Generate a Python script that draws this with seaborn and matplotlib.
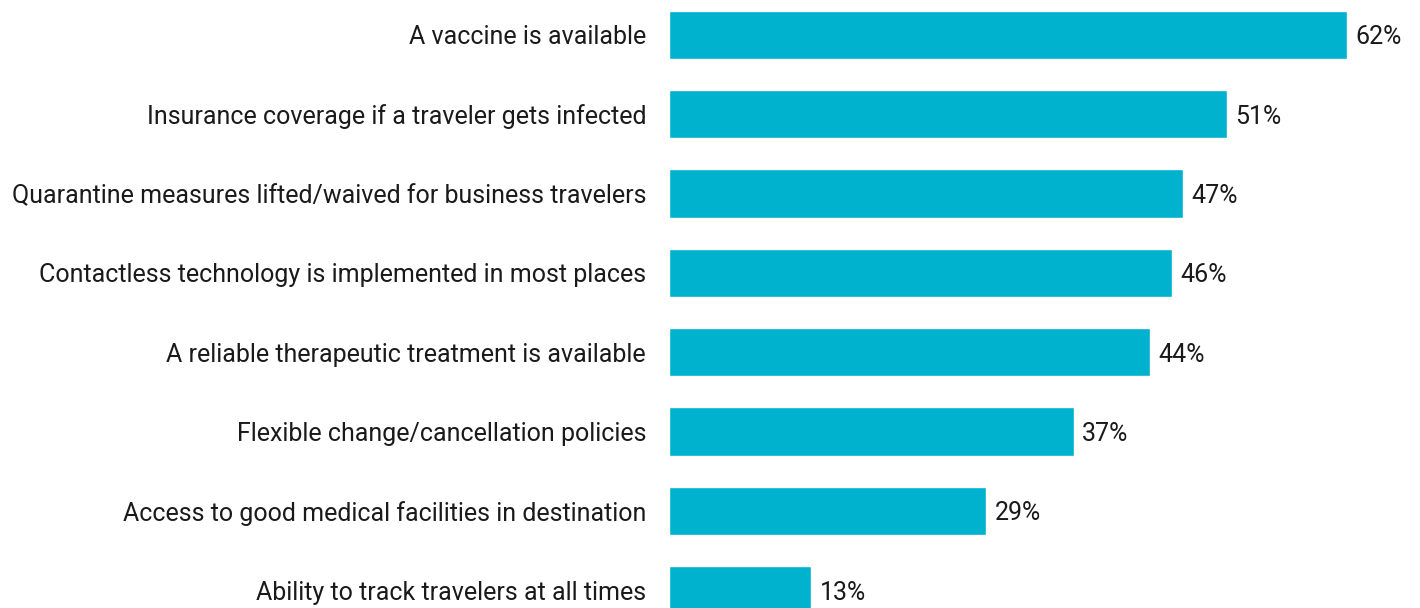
import matplotlib
matplotlib.use("Agg")
import matplotlib.pyplot as plt
import seaborn as sns
import pandas as pd

categories = [
    "A vaccine is available",
    "Insurance coverage if a traveler gets infected",
    "Quarantine measures lifted/waived for business travelers",
    "Contactless technology is implemented in most places",
    "A reliable therapeutic treatment is available",
    "Flexible change/cancellation policies",
    "Access to good medical facilities in destination",
    "Ability to track travelers at all times",
]
shares = [62, 51, 47, 46, 44, 37, 29, 13]

BAR_COLOR = "#00B2CE"

sns.set_theme(style="white")
plt.rcParams["font.family"] = ["Roboto", "DejaVu Sans"]

df = pd.DataFrame({"factor": categories, "share": shares})

fig = plt.figure(figsize=(14.2, 6.08), dpi=100)
ax = fig.add_axes([669 / 1420, 0.0, 743.6 / 1420, 1.0])

sns.barplot(data=df, x="share", y="factor", color=BAR_COLOR, saturation=1,
            width=0.61, ax=ax, orient="h")

ax.set_xlim(0, 68)
ax.set_ylim(7.227, -0.441)
ax.set_xlabel("")
ax.set_ylabel("")
ax.set_xticks([])
ax.tick_params(axis="y", length=0, pad=16.5, labelsize=18, labelcolor="#1a1a1a")
for s in ax.spines.values():
    s.set_visible(False)

for i, v in enumerate(shares):
    ax.annotate(f"{v}%", xy=(v, i), xytext=(6, 0), textcoords="offset points",
                va="center_baseline", ha="left", fontsize=18, color="#1a1a1a",
                annotation_clip=False)

fig.savefig("out.png", dpi=100)
